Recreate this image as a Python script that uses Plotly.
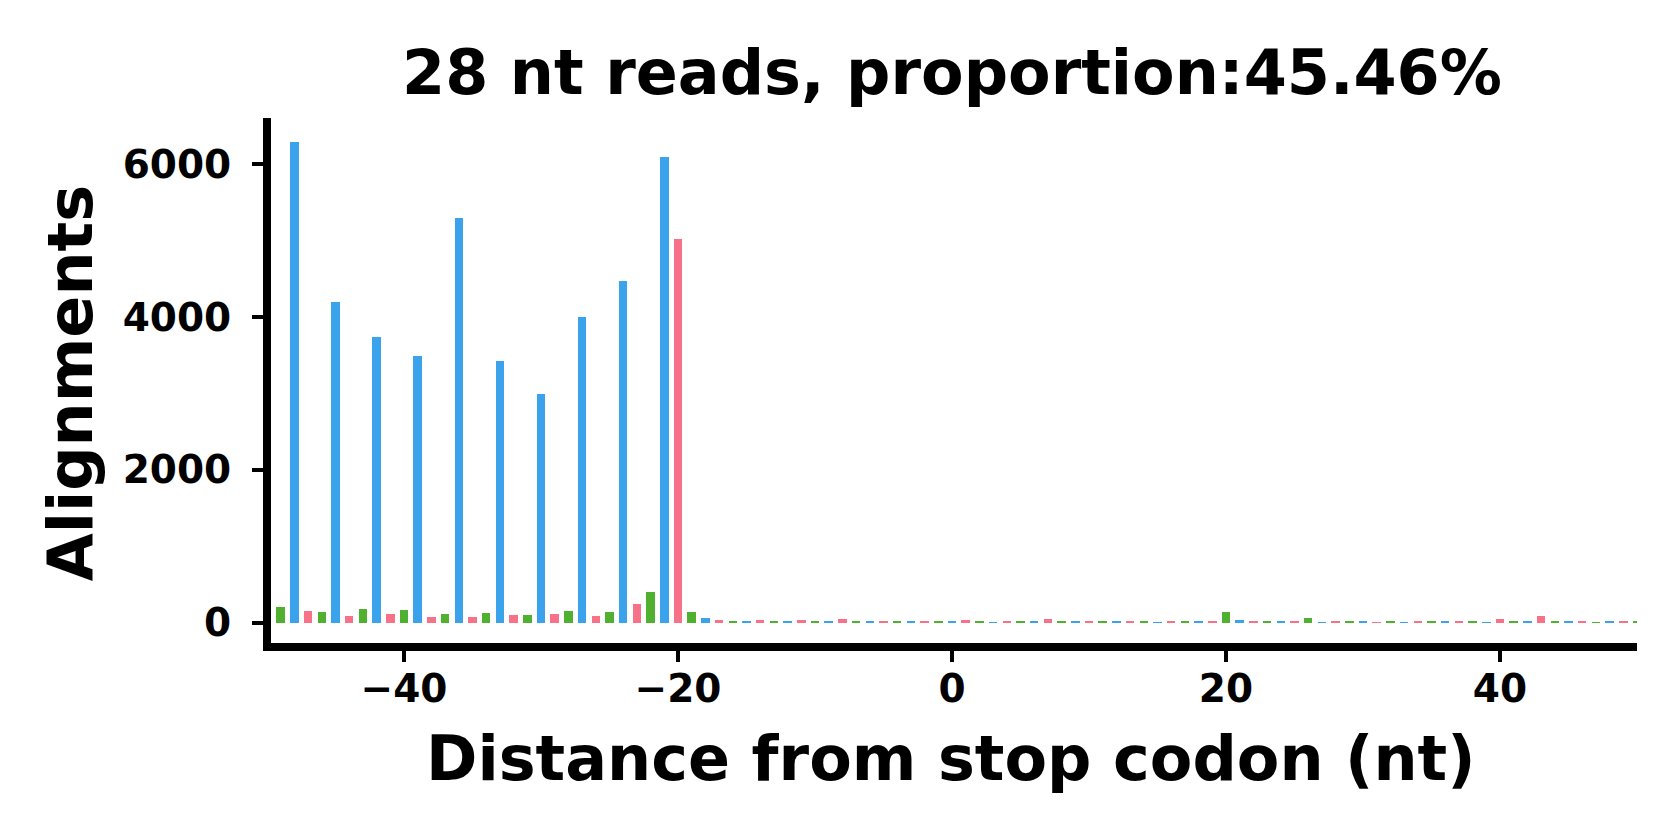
import plotly.graph_objects as go

# ---- data ----
positions = list(range(-49, 51))
counts = [
    200, 6290, 145, 135, 4198, 89, 182, 3736, 117, 159,      # -49 .. -40
    3488, 70, 107, 5300, 75, 126, 3423, 93, 103, 2998,       # -39 .. -30
    107, 149, 4002, 79, 140, 4469, 245, 401, 6090, 5016,     # -29 .. -20
    144, 65, 39, 26, 26, 35, 26, 26, 39, 26,                 # -19 .. -10
    17, 52, 10, 10, 10, 26, 13, 26, 26, 13,                  # -9 .. 0
    39, 10, 3, 13, 13, 13, 52, 13, 10, 10,                   # 1 .. 10
    26, 10, 26, 26, 6, 26, 26, 13, 8, 144,                   # 11 .. 20
    39, 10, 8, 10, 13, 65, 6, 10, 10, 10,                    # 21 .. 30
    5, 26, 6, 26, 26, 13, 13, 8, 6, 52,                      # 31 .. 40
    26, 8, 92, 10, 10, 26, 6, 13, 26, 26,                    # 41 .. 50
]
frame_colors = {0: "#3ba3ec", 1: "#f77189", 2: "#50b131"}
title_text = "28 nt reads, proportion:45.46%"
x_label = "Distance from stop codon (nt)"
y_label = "Alignments"
x_ticks = [-40, -20, 0, 20, 40]
y_ticks = [0, 2000, 4000, 6000]

fig = go.Figure()
for fr in (2, 0, 1):
    xs = [p for p in positions if p % 3 == fr]
    ys = [c for p, c in zip(positions, counts) if p % 3 == fr]
    fig.add_trace(go.Bar(x=xs, y=ys, width=0.62,
                         marker=dict(color=frame_colors[fr], line=dict(width=0)),
                         showlegend=False))

# page body has an 8px margin; figure sized to fit inside the viewport
W, H = 1672, 832
L, R, T, B = 263, 43, 110, 196.5
pw, ph = W - L - R, H - T - B

def px(x):
    return (x - L) / pw

def py(y):
    return 1 - (y - T) / ph

font_fam = "DejaVu Sans"
tick_font = dict(family=font_fam, size=39, weight="bold", color="black")
fig.update_layout(
    width=W, height=H,
    margin=dict(l=L, r=R, t=T, b=B, pad=0),
    paper_bgcolor="white", plot_bgcolor="white",
    bargap=0,
    font=dict(family=font_fam, color="black"),
    xaxis=dict(range=[-49.71, 50], showgrid=False, zeroline=False,
               showline=True, linewidth=8, linecolor="black",
               ticks="outside", ticklen=11, tickwidth=4, tickcolor="black",
               tickvals=x_ticks,
               ticktext=[("\u2212" + str(-v)) if v < 0 else str(v) for v in x_ticks],
               ticklabelstandoff=-7, tickfont=tick_font),
    yaxis=dict(range=[-268, 6604.5], showgrid=False, zeroline=False,
               showline=True, linewidth=8, linecolor="black",
               ticks="outside", ticklen=11, tickwidth=4, tickcolor="black",
               tickvals=y_ticks, ticktext=[str(v) for v in y_ticks],
               ticklabelstandoff=13, tickfont=tick_font),
    annotations=[
        dict(text=title_text, xref="paper", yref="paper", x=px(943.5), y=py(64.4),
             xanchor="center", yanchor="middle", showarrow=False,
             font=dict(family=font_fam, size=62, weight="bold", color="black")),
        dict(text=x_label, xref="paper", yref="paper", x=px(942.5), y=py(751.2),
             xanchor="center", yanchor="middle", showarrow=False,
             font=dict(family=font_fam, size=62, weight="bold", color="black")),
        dict(text=y_label, xref="paper", yref="paper", x=px(62), y=py(375.5),
             xanchor="center", yanchor="middle", showarrow=False, textangle=-90,
             font=dict(family=font_fam, size=62, weight="bold", color="black")),
    ],
)

fig.write_html("out.html")
